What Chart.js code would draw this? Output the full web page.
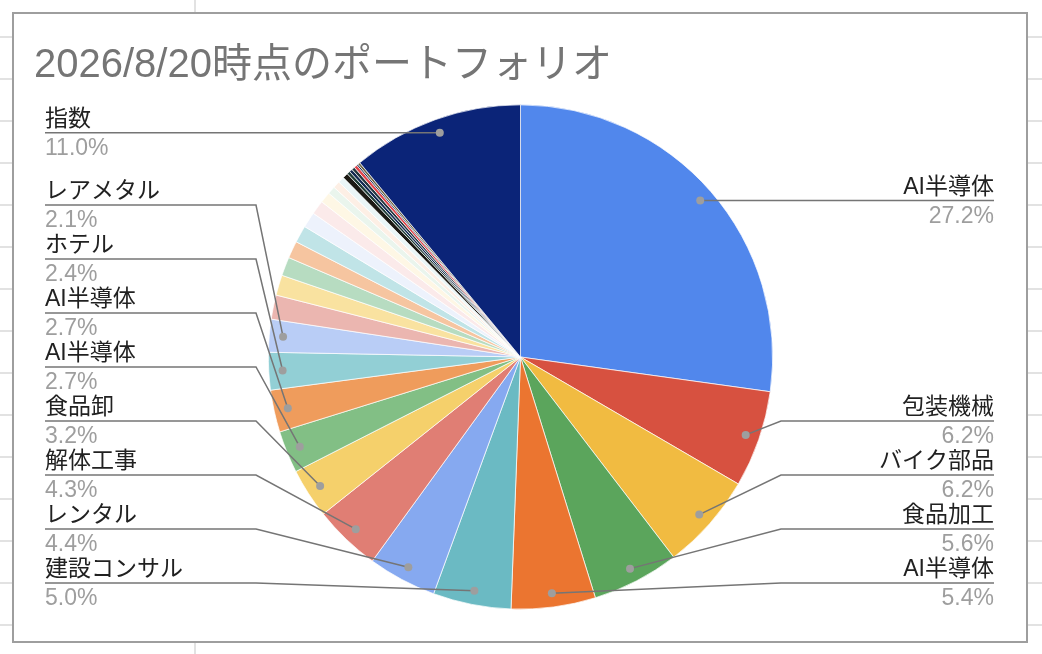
<!DOCTYPE html>
<html lang="ja">
<head>
<meta charset="utf-8">
<title>2026/8/20時点のポートフォリオ</title>
<script src="https://cdn.jsdelivr.net/npm/chart.js@4.4.1/dist/chart.umd.min.js"></script>
<style>
  html, body { margin: 0; padding: 0; }
  body {
    width: 1042px; height: 654px; overflow: hidden; position: relative;
    background-color: #fff;
    background-image:
      linear-gradient(to right, transparent 194px, #e2e2e2 194px, #e2e2e2 196px, transparent 196px),
      repeating-linear-gradient(to bottom, transparent 0, transparent 36px, #e2e2e2 36px, #e2e2e2 38px, transparent 38px, transparent 42px);
  }
  #frame {
    position: absolute; left: 12px; top: 12px; width: 1016px; height: 631px;
    box-sizing: border-box; border: 2px solid #9e9e9e; background: #fff;
  }
  #wrap { position: absolute; left: 0; top: 0; width: 1042px; height: 654px; }
</style>
</head>
<body>
<div id="frame"></div>
<div id="wrap"><canvas id="grafico"></canvas></div>
<script>
// タイトル
const chartTitle = '2026/8/20時点のポートフォリオ';

// 銘柄カテゴリ（空文字はラベルなしの小さいスライス）
const categories = [
  'AI半導体', '包装機械', 'バイク部品', '食品加工', 'AI半導体', '建設コンサル',
  'レンタル', '解体工事', '食品卸', 'AI半導体', 'AI半導体', 'ホテル', 'レアメタル',
  '', '', '', '', '', '', '', '', '', '', '',
  '', '', '', '', '', '', '',
  '指数'
];

// 構成比（%）
const values = [
  27.2, 6.2, 6.2, 5.6, 5.4, 5.0,
  4.4, 4.3, 3.2, 2.7, 2.7, 2.4, 2.1,
  1.55, 1.3, 1.2, 1.1, 1.1, 1.0, 0.9, 0.7, 0.5, 0.45, 0.4,
  0.35, 0.2, 0.2, 0.2, 0.2, 0.1, 0.15,
  11.0
];

// スライスの色
const colors = [
  '#5187ec', '#d75140', '#f1bb41', '#5ba55c', '#eb7530', '#6bbac3',
  '#86a9f0', '#e07e74', '#f5d06b', '#82bf85', '#ef9c5c', '#92cfd5', '#b9cdf6',
  '#ebb6b0', '#f9e2a0', '#b7dcc1', '#f6c5a0', '#c0e4e7', '#edf2fc', '#fbeaea', '#fef7e5', '#eaf5ed', '#fdefe5', '#eaf6f7',
  '#1c1a14', '#1e3b36', '#132a52', '#25363f', '#e2454b', '#15224a', '#6a6444',
  '#0b2478'
];

const fontFamily = '"Liberation Sans", "Noto Sans CJK JP"';

// ラベルと引き出し線を描くプラグイン
const calloutPlugin = {
  id: 'callouts',
  afterDatasetsDraw(chart) {
    const ctx = chart.ctx;
    const arcs = chart.getDatasetMeta(0).data;
    const total = values.reduce((a, b) => a + b, 0);
    const left = [], right = [];

    arcs.forEach(function (arc, i) {
      if (!categories[i]) return;
      const p = arc.getProps(['x', 'y', 'startAngle', 'endAngle', 'outerRadius'], true);
      const mid = (p.startAngle + p.endAngle) / 2;
      const r = p.outerRadius * 0.945;
      const item = { i: i, dx: p.x + Math.cos(mid) * r, dy: p.y + Math.sin(mid) * r };
      (Math.cos(mid) >= 0 ? right : left).push(item);
    });

    // 下から順に重ならないように並べる
    [left, right].forEach(function (side) {
      side.sort(function (a, b) { return b.dy - a.dy; });
      let limit = 583;
      side.forEach(function (it) {
        it.ly = Math.min(it.dy, limit);
        limit = it.ly - 54;
      });
    });

    ctx.save();
    function drawSide(side, isRight) {
      const textX = isRight ? 994 : 45;
      const elbowX = isRight ? 781 : 256;
      side.forEach(function (it) {
        ctx.strokeStyle = '#757575';
        ctx.lineWidth = 1.5;
        ctx.beginPath();
        ctx.moveTo(textX, it.ly);
        ctx.lineTo(elbowX, it.ly);
        ctx.lineTo(it.dx, it.dy);
        ctx.stroke();

        ctx.fillStyle = '#9e9e9e';
        ctx.beginPath();
        ctx.arc(it.dx, it.dy, 4, 0, Math.PI * 2);
        ctx.fill();

        ctx.textAlign = isRight ? 'right' : 'left';
        ctx.textBaseline = 'alphabetic';
        ctx.fillStyle = '#212121';
        ctx.font = '23px ' + fontFamily;
        ctx.fillText(categories[it.i], textX, it.ly - 7);

        ctx.fillStyle = '#9e9e9e';
        ctx.font = '23px ' + fontFamily;
        ctx.fillText((values[it.i] / total * 100).toFixed(1) + '%', textX, it.ly + 22);
      });
    }
    drawSide(left, false);
    drawSide(right, true);

    // タイトル
    ctx.textAlign = 'left';
    ctx.textBaseline = 'alphabetic';
    ctx.fillStyle = '#757575';
    ctx.font = '40px ' + fontFamily;
    ctx.fillText(chartTitle, 34, 77);
    ctx.restore();
  }
};

new Chart(document.getElementById('grafico'), {
  type: 'pie',
  data: {
    labels: categories,
    datasets: [{
      data: values,
      backgroundColor: colors,
      borderColor: '#ffffff',
      borderWidth: 0.7,
      hoverOffset: 0
    }]
  },
  options: {
    responsive: true,
    maintainAspectRatio: false,
    animation: false,
    layout: { padding: { left: 268, right: 269, top: 104, bottom: 44 } },
    plugins: {
      legend: { display: false },
      tooltip: { enabled: false },
      title: { display: false }
    }
  },
  plugins: [calloutPlugin]
});
</script>
</body>
</html>
